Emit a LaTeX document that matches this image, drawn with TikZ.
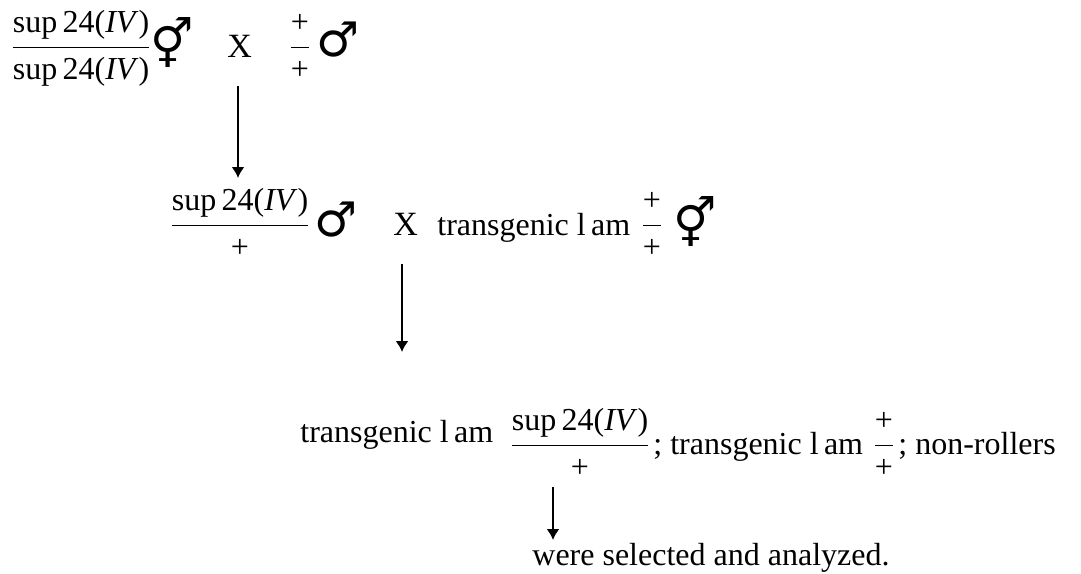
\documentclass[tikz,border=0pt]{standalone}
\usepackage{amsmath}
\usepackage{fontspec}
\setmainfont{Liberation Serif}
\newfontfamily\symfont{DejaVu Sans}
\usetikzlibrary{arrows.meta,positioning}

\tikzset{
  txt/.style={font=\fontsize{16}{19}\selectfont, inner sep=0pt},
  cx/.style={font=\fontsize{17}{20}\selectfont, inner sep=0pt},
  sex/.style={font=\symfont\fontsize{24}{24}\selectfont, inner sep=0pt},
  genarrow/.style={-{Latex[length=5.5pt,width=6.5pt]}, line width=1pt}
}

\begin{document}
\begin{tikzpicture}[x=0.5pt,y=-0.5pt]

\useasboundingbox (0,0) rectangle (1081,573);

% Parents
\node[txt,anchor=base] (p1frac) at (81,56)
  {$\genfrac{}{}{0.8pt}{0}{\text{sup\,24(\textit{IV})}}{\text{sup\,24(\textit{IV})}}$};
\node[sex] (p1sex) at (172,43) {⚥};
\node[cx,anchor=base west] (p1x) at (227,57) {X};
\node[txt,anchor=base] (p1plus) at (300,56) {$\genfrac{}{}{0.8pt}{0}{\text{+}}{\text{+}}$};
\node[sex] (p1male) at (338,40) {♂};

% F1 cross
\node[txt,anchor=base] (f1frac) at (240,234)
  {$\genfrac{}{}{0.8pt}{0}{\text{sup\,24(\textit{IV})}}{\text{+}}$};
\node[sex] (f1male) at (336,220) {♂};
\node[cx,anchor=base west] (f1x) at (393,235) {X};
\node[txt,anchor=base west] (f1lam) at (437,235) {transgenic l\,am};
\node[txt,anchor=base] (f1plus) at (652,234) {$\genfrac{}{}{0.8pt}{0}{\text{+}}{\text{+}}$};
\node[sex] (f1sex) at (695,222) {⚥};

% Progeny
\node[txt,anchor=base west] (f2lam) at (300,442) {transgenic l\,am};
\node[txt,anchor=base] (f2frac) at (580,454)
  {$\genfrac{}{}{0.8pt}{0}{\text{sup\,24(\textit{IV})}}{\text{+}}$};
\node[txt,anchor=base west] (f2lamb) at (653,454) {; transgenic l\,am};
\node[txt,anchor=base] (f2plus) at (884,454) {$\genfrac{}{}{0.8pt}{0}{\text{+}}{\text{+}}$};
\node[txt,anchor=base west] (f2rest) at (898,454) {; non-rollers};

\node[txt,anchor=base west] (sel) at (532,565) {were selected and analyzed.};

% Arrows
\coordinate (a1s) at (238,86);
\coordinate (a1e) at (238,178);
\coordinate (a2s) at (402,264);
\coordinate (a2e) at (402,352);
\coordinate (a3s) at (553,487);
\coordinate (a3e) at (553,540);

\draw[genarrow] (a1s) -- (a1e);
\draw[genarrow] (a2s) -- (a2e);
\draw[genarrow] (a3s) -- (a3e);

\end{tikzpicture}
\end{document}
